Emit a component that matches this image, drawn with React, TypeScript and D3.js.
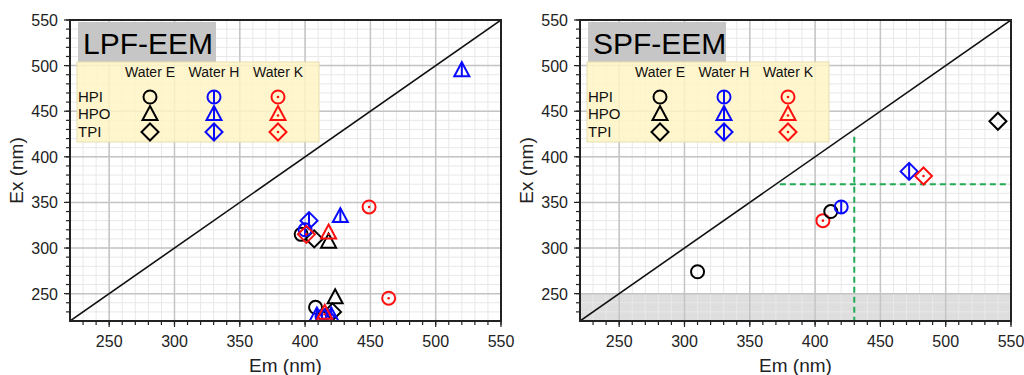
import * as d3 from 'd3';

const waters = ['Water E', 'Water H', 'Water K'];
const fractions = ['HPI', 'HPO', 'TPI'];
const waterColors = ['#000000', '#0a0aff', '#ff1010'];
const axisTicks = [250, 300, 350, 400, 450, 500, 550];
const domain: [number, number] = [220, 550];

// [water, fraction, Em, Ex]
const lpfPoints: [number, number, number, number][] = [
  [0, 0, 397, 315], [0, 1, 418, 307], [0, 2, 407, 310],
  [1, 0, 400, 320], [1, 1, 427, 335], [1, 2, 403, 330],
  [2, 0, 449, 345], [2, 1, 418, 317], [2, 2, 401, 315],
  [0, 0, 408, 235], [0, 1, 423, 246], [0, 2, 421, 230],
  [1, 0, 413, 225], [1, 1, 409, 226], [1, 1, 420, 226], [1, 2, 416, 225],
  [2, 0, 464, 245], [2, 1, 415, 229],
  [1, 1, 520, 495],
];

const spfPoints: [number, number, number, number][] = [
  [0, 0, 310, 274], [2, 0, 406, 330], [0, 0, 412, 340], [1, 0, 420, 345],
  [1, 2, 472, 384], [2, 2, 483, 379], [0, 2, 540, 439],
];

// SPF guide lines and shaded band
const spfGuideEm = 430;
const spfGuideEx = 370;
const spfShadeEx = 250;

const FONT = '"Liberation Sans", Arial, sans-serif';
const TOP = 20;
const BOTTOM = 321;

function markerPath(fraction: number) {
  const p = d3.path();
  if (fraction === 0) {
    p.arc(0, 0, 6.5, 0, Math.PI * 2);
  } else if (fraction === 1) {
    p.moveTo(0, -8);
    p.lineTo(7.5, 6);
    p.lineTo(-7.5, 6);
    p.closePath();
  } else {
    p.moveTo(0, -8.5);
    p.lineTo(8.5, 0);
    p.lineTo(0, 8.5);
    p.lineTo(-8.5, 0);
    p.closePath();
  }
  return p.toString();
}

function Marker({ x, y, water, fraction }: { x: number; y: number; water: number; fraction: number }) {
  const color = waterColors[water];
  const top = fraction === 0 ? -6.5 : fraction === 1 ? -8 : -8.5;
  const bot = fraction === 0 ? 6.5 : fraction === 1 ? 6 : 8.5;
  const cy = fraction === 1 ? 1.5 : 0;
  return (
    <g transform={`translate(${x},${y})`}>
      <path d={markerPath(fraction)} fill="none" stroke={color} strokeWidth={2} />
      {water === 1 && <line x1={0} x2={0} y1={top} y2={bot} stroke={color} strokeWidth={2} />}
      {water === 2 && <circle cx={0} cy={cy} r={1.3} fill={color} />}
    </g>
  );
}

function Panel({ left, title, points, spf }: { left: number; title: string; points: [number, number, number, number][]; spf?: boolean }) {
  const right = left + 431;
  const x = d3.scaleLinear().domain(domain).range([left, right]);
  const y = d3.scaleLinear().domain(domain).range([BOTTOM, TOP]);
  const minor = d3.range(230, 551, 10);
  const clipId = `clip-${title}`;
  const colX = [left + 80, left + 144, left + 208];
  const rowY = [97, 114, 132];

  return (
    <g>
      <defs>
        <clipPath id={clipId}>
          <rect x={left} y={TOP} width={right - left} height={BOTTOM - TOP} />
        </clipPath>
      </defs>
      <rect x={left} y={TOP} width={right - left} height={BOTTOM - TOP} fill="#fff" />
      {spf && (
        <rect x={left} y={y(spfShadeEx)} width={right - left} height={BOTTOM - y(spfShadeEx)} fill="#dedede" />
      )}
      {minor.map((v) => (
        <g key={'m' + v}>
          <line x1={x(v)} x2={x(v)} y1={TOP} y2={BOTTOM} stroke="#e8e8e8" strokeWidth={1} />
          <line x1={left} x2={right} y1={y(v)} y2={y(v)} stroke="#e8e8e8" strokeWidth={1} />
        </g>
      ))}
      {axisTicks.map((v) => (
        <g key={'g' + v}>
          <line x1={x(v)} x2={x(v)} y1={TOP} y2={BOTTOM} stroke="#c4c4c4" strokeWidth={1.5} />
          <line x1={left} x2={right} y1={y(v)} y2={y(v)} stroke="#c4c4c4" strokeWidth={1.5} />
        </g>
      ))}
      <line
        x1={x(domain[0])}
        y1={y(domain[0])}
        x2={x(domain[1])}
        y2={y(domain[1])}
        stroke="#111"
        strokeWidth={1.6}
        clipPath={`url(#${clipId})`}
      />
      {spf && (
        <g stroke="#22aa55" strokeWidth={2} strokeDasharray="6,4" fill="none">
          <line x1={x(spfGuideEm)} x2={x(spfGuideEm)} y1={y(422)} y2={BOTTOM} />
          <line x1={x(373)} x2={right} y1={y(spfGuideEx)} y2={y(spfGuideEx)} />
        </g>
      )}

      {/* title + legend */}
      <rect x={left + 8} y={22} width={138} height={40} fill="#c6c6c6" />
      <text x={left + 13} y={54} fontSize={30} fontFamily={FONT} fill="#000">
        {title}
      </text>
      <rect x={left + 7} y={62} width={242} height={80} fill="#fff4c4" fillOpacity={0.85} stroke="#e8dfb0" />
      {waters.map((w, i) => (
        <text key={w} x={colX[i]} y={77} fontSize={14} fontFamily={FONT} textAnchor="middle" fill="#111">
          {w}
        </text>
      ))}
      {fractions.map((f, j) => (
        <g key={f}>
          <text x={left + 8} y={rowY[j] + 5} fontSize={15} fontFamily={FONT} fill="#111">
            {f}
          </text>
          {waters.map((w, i) => (
            <Marker key={w} x={colX[i]} y={rowY[j]} water={i} fraction={j} />
          ))}
        </g>
      ))}

      <g clipPath={`url(#${clipId})`}>
        {points.map(([w, f, em, ex], i) => (
          <Marker key={i} x={x(em)} y={y(ex)} water={w} fraction={f} />
        ))}
      </g>

      {/* frame + ticks */}
      <rect x={left} y={TOP} width={right - left} height={BOTTOM - TOP} fill="none" stroke="#222" strokeWidth={2} />
      {minor.map((v) => (
        <g key={'t' + v} stroke="#222" strokeWidth={1.2}>
          <line x1={x(v)} x2={x(v)} y1={BOTTOM} y2={BOTTOM + 4} />
          <line x1={left} x2={left - 4} y1={y(v)} y2={y(v)} />
        </g>
      ))}
      {axisTicks.map((v) => (
        <g key={'T' + v}>
          <line x1={x(v)} x2={x(v)} y1={BOTTOM} y2={BOTTOM + 6} stroke="#222" strokeWidth={1.2} />
          <line x1={left} x2={left - 6} y1={y(v)} y2={y(v)} stroke="#222" strokeWidth={1.2} />
          <text x={x(v)} y={347} fontSize={16} fontFamily={FONT} textAnchor="middle" fill="#222">
            {v}
          </text>
          <text x={left - 12} y={y(v) + 6} fontSize={16} fontFamily={FONT} textAnchor="end" fill="#222">
            {v}
          </text>
        </g>
      ))}
      <text x={(left + right) / 2} y={372} fontSize={19} fontFamily={FONT} textAnchor="middle" fill="#222">
        Em (nm)
      </text>
      <text
        transform={`translate(${left - 47},${(TOP + BOTTOM) / 2}) rotate(-90)`}
        fontSize={19}
        fontFamily={FONT}
        textAnchor="middle"
        fill="#222"
      >
        Ex (nm)
      </text>
    </g>
  );
}

export default function App() {
  return (
    <div style={{ position: 'absolute', left: 0, top: 0 }}>
      <svg width={1024} height={375} style={{ display: 'block', background: '#fff' }}>
        <Panel left={70} title="LPF-EEM" points={lpfPoints} />
        <Panel left={580} title="SPF-EEM" points={spfPoints} spf />
      </svg>
    </div>
  );
}
